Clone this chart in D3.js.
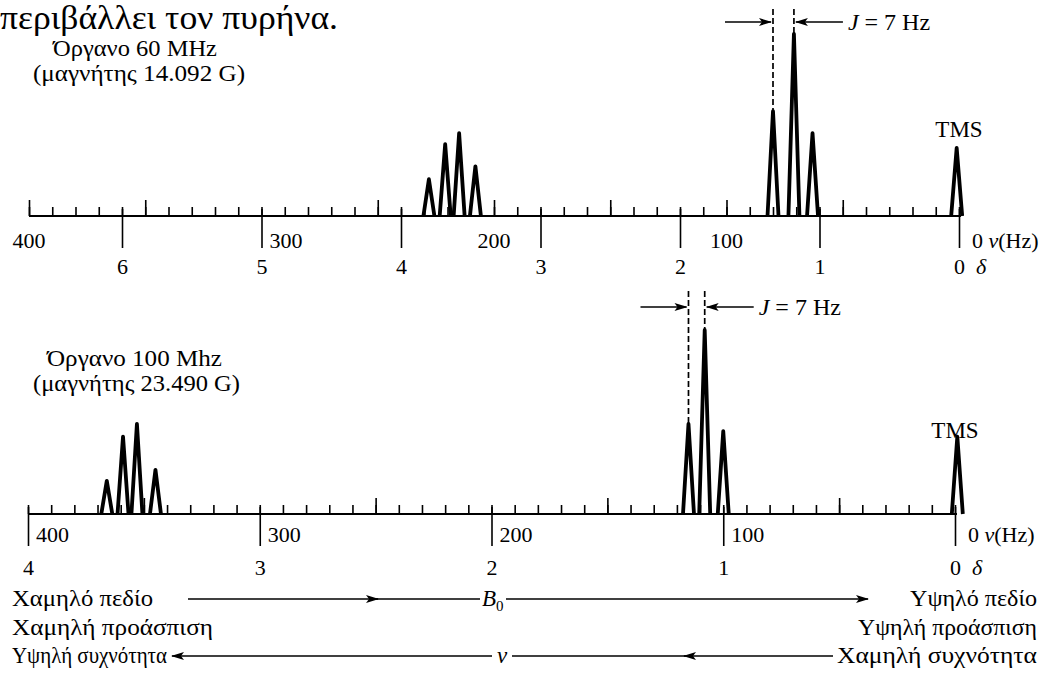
<!DOCTYPE html>
<html>
<head>
<meta charset="utf-8">
<script src="https://cdn.jsdelivr.net/npm/d3@7"></script>
<style>
  body { margin: 0; background: #fff; }
  text { font-family: "Liberation Serif", "DejaVu Serif", serif; }
</style>
</head>
<body>
<svg id="chart" width="1050" height="694"></svg>
<script>
// tick labels
const deltaTop = [6, 5, 4, 3, 2, 1, 0];
const deltaBottom = [4, 3, 2, 1, 0];
const hzLabels = [400, 300, 200, 100];

// 60 MHz spectrum (peak position in Hz from TMS, relative intensity)
const quartet60Hz = [228, 221, 215, 208];
const quartet60Int = [20, 39, 45, 27];
const triplet60Hz = [80, 71, 63];
const triplet60Int = [57, 99, 45];
const tms60Hz = 1;
const tms60Int = 37;

// 100 MHz spectrum
const quartet100Hz = [366, 359, 353, 345];
const quartet100Int = [18, 42, 49, 24];
const triplet100Hz = [115, 108, 100];
const triplet100Int = [49, 100, 45];
const tms100Hz = -1;
const tms100Int = 42;

const svg = d3.select("#chart");
svg.append("rect").attr("width", 1050).attr("height", 694).attr("fill", "#fff");

// text cut off from the page above the figure
svg.append("text")
    .attr("x", 0).attr("y", 29)
    .attr("font-size", 33)
    .attr("textLength", 338).attr("lengthAdjust", "spacingAndGlyphs")
    .text("περιβάλλει τον πυρήνα.");

// arrow head marker
svg.append("defs").append("marker")
    .attr("id", "head").attr("viewBox", "0 0 13 8")
    .attr("refX", 12).attr("refY", 4)
    .attr("markerWidth", 13).attr("markerHeight", 8)
    .attr("markerUnits", "userSpaceOnUse").attr("orient", "auto")
    .append("path").attr("d", "M0,0 L13,4 L0,8 L3,4 Z").attr("fill", "#000");

function drawPanel(p) {
    const x = d3.scaleLinear().domain([400, 0]).range([p.x0, p.x1]);      // Hz
    const xd = d3.scaleLinear().domain([400 / p.mhz, 0]).range([p.x0, p.x1]); // ppm
    const y = d3.scaleLinear().domain([0, 100]).range([p.base, p.base - 184]);

    const g = svg.append("g");

    // minor ticks every 10 Hz
    g.append("g")
        .attr("transform", `translate(0,${p.base})`)
        .call(d3.axisTop(x).tickValues(d3.range(0, 401, 10)).tickSize(9).tickFormat("").tickSizeOuter(0))
        .call(a => a.select(".domain").remove())
        .selectAll("line").attr("stroke-width", 1.6);

    // taller ticks every 50 Hz
    g.append("g")
        .attr("transform", `translate(0,${p.base})`)
        .call(d3.axisTop(x).tickValues(p.tall).tickSize(16).tickFormat("").tickSizeOuter(0))
        .call(a => a.select(".domain").remove())
        .selectAll("line").attr("stroke-width", 1.6);

    // ppm ticks and labels
    const dAxis = g.append("g")
        .attr("transform", `translate(0,${p.base})`)
        .call(d3.axisBottom(xd).tickValues(p.delta).tickSize(32).tickPadding(0)
            .tickFormat(d => d).tickSizeOuter(0));
    dAxis.attr("font-family", null).attr("font-size", null);
    dAxis.select(".domain").remove();
    dAxis.selectAll("line").attr("y1", -7).attr("stroke-width", 1.6);
    dAxis.selectAll("text")
        .attr("y", p.deltaY).attr("dy", 0)
        .attr("font-size", 22).attr("fill", "#000");

    // baseline
    g.append("line")
        .attr("x1", x(400)).attr("x2", x(0) + 2)
        .attr("y1", p.base).attr("y2", p.base)
        .attr("stroke", "#000").attr("stroke-width", 2.2);

    // Hz labels
    hzLabels.forEach(v => {
        const onDelta = p.delta.some(d => Math.abs(xd(d) - x(v)) < 1);
        g.append("text")
            .attr("x", onDelta ? x(v) + 8 : x(v))
            .attr("y", p.hzY)
            .attr("text-anchor", onDelta ? "start" : "middle")
            .attr("font-size", 22)
            .text(v);
    });
    const nu = g.append("text").attr("x", x(0) + 13).attr("y", p.hzY).attr("font-size", 22);
    nu.append("tspan").text("0 ");
    nu.append("tspan").attr("font-style", "italic").text("ν");
    nu.append("tspan").text("(Hz)");
    g.append("text").attr("x", xd(0) + 17).attr("y", p.deltaY + p.base)
        .attr("font-size", 22).attr("font-style", "italic").text("δ");

    // peaks
    const peakLine = d3.line();
    const peaks = [];
    p.qHz.forEach((h, i) => peaks.push([h, p.qInt[i]]));
    p.tHz.forEach((h, i) => peaks.push([h, p.tInt[i]]));
    peaks.push([p.tmsHz, p.tmsInt]);
    g.selectAll(".peak").data(peaks).enter().append("path")
        .attr("class", "peak")
        .attr("d", d => peakLine([[x(d[0]) - 5.5, p.base], [x(d[0]), y(d[1])], [x(d[0]) + 5.5, p.base]]))
        .attr("fill", "none").attr("stroke", "#000")
        .attr("stroke-width", 3.8).attr("stroke-linejoin", "round");

    // TMS label
    g.append("text").attr("x", x(0)).attr("y", p.tmsY)
        .attr("text-anchor", "middle").attr("font-size", 23).text("TMS");

    // J coupling marker
    const xa = x(p.tHz[0]), xb = x(p.tHz[1]);
    [[xa, p.tInt[0]], [xb, p.tInt[1]]].forEach(d => {
        g.append("line").attr("x1", d[0]).attr("x2", d[0])
            .attr("y1", p.jTop).attr("y2", y(d[1]))
            .attr("stroke", "#000").attr("stroke-width", 1.7).attr("stroke-dasharray", "6,3");
    });
    g.append("line").attr("x1", xa - 48).attr("x2", xa - 2)
        .attr("y1", p.jY).attr("y2", p.jY).attr("stroke", "#000").attr("stroke-width", 1.5)
        .attr("marker-end", "url(#head)");
    g.append("line").attr("x1", xb + 49).attr("x2", xb + 2)
        .attr("y1", p.jY).attr("y2", p.jY).attr("stroke", "#000").attr("stroke-width", 1.5)
        .attr("marker-end", "url(#head)");
    const jt = g.append("text").attr("x", xb + 54).attr("y", p.jY + 8).attr("font-size", 24);
    jt.append("tspan").attr("font-style", "italic").text("J");
    jt.append("tspan").text(" = 7 Hz");

    // instrument label
    g.append("text").attr("x", p.lab1X).attr("y", p.labY).attr("font-size", 23)
        .attr("textLength", p.lab1W).attr("lengthAdjust", "spacingAndGlyphs").text(p.lab1);
    g.append("text").attr("x", 33).attr("y", p.labY + 25).attr("font-size", 23)
        .attr("textLength", p.lab2W).attr("lengthAdjust", "spacingAndGlyphs").text(p.lab2);
}

drawPanel({
    mhz: 60, x0: 29, x1: 959, base: 216,
    delta: deltaTop, tall: [400, 350, 250, 200, 150, 100, 50],
    deltaY: 58, hzY: 248,
    qHz: quartet60Hz, qInt: quartet60Int, tHz: triplet60Hz, tInt: triplet60Int,
    tmsHz: tms60Hz, tmsInt: tms60Int, tmsY: 137,
    jTop: 9, jY: 22,
    lab1: "Όργανο 60 MHz", lab2: "(μαγνήτης 14.092 G)", labY: 56,
    lab1X: 53, lab1W: 164, lab2W: 212
});

drawPanel({
    mhz: 100, x0: 28, x1: 955, base: 514,
    delta: deltaBottom, tall: [350, 250, 150, 50],
    deltaY: 61, hzY: 542,
    qHz: quartet100Hz, qInt: quartet100Int, tHz: triplet100Hz, tInt: triplet100Int,
    tmsHz: tms100Hz, tmsInt: tms100Int, tmsY: 438,
    jTop: 291, jY: 307,
    lab1: "Όργανο 100 Mhz", lab2: "(μαγνήτης 23.490 G)", labY: 366,
    lab1X: 47, lab1W: 175, lab2W: 207
});

// direction legend at the bottom
const legend = svg.append("g").attr("font-size", 23);
const rowY = [606, 635, 663];
function legendText(x, yy, w, anchor, s) {
    legend.append("text").attr("x", x).attr("y", yy).attr("text-anchor", anchor)
        .attr("textLength", w).attr("lengthAdjust", "spacingAndGlyphs").text(s);
}
legendText(12, rowY[0], 141, "start", "Χαμηλό πεδίο");
legendText(12, rowY[1], 201, "start", "Χαμηλή προάσπιση");
legendText(12, rowY[2], 155, "start", "Υψηλή συχνότητα");
legendText(1037, rowY[0], 127, "end", "Υψηλό πεδίο");
legendText(1037, rowY[1], 179, "end", "Υψηλή προάσπιση");
legendText(1037, rowY[2], 200, "end", "Χαμηλή συχνότητα");

const b0 = legend.append("text").attr("x", 482).attr("y", rowY[0]);
b0.append("tspan").attr("font-style", "italic").text("B");
b0.append("tspan").attr("font-size", 15).attr("dy", 5).text("0");
legend.append("text").attr("x", 497).attr("y", rowY[2]).attr("font-style", "italic").text("ν");

const ly0 = rowY[0] - 7, ly2 = rowY[2] - 7;
function hline(x1, x2, yy, marker) {
    const l = legend.append("line").attr("x1", x1).attr("x2", x2).attr("y1", yy).attr("y2", yy)
        .attr("stroke", "#000").attr("stroke-width", 1.6);
    if (marker) l.attr("marker-end", "url(#head)");
}
hline(188, 378, ly0, true);
hline(370, 480, ly0, false);
hline(506, 868, ly0, true);
hline(492, 172, ly2, true);
hline(833, 684, ly2, true);
hline(690, 512, ly2, false);
</script>
</body>
</html>
